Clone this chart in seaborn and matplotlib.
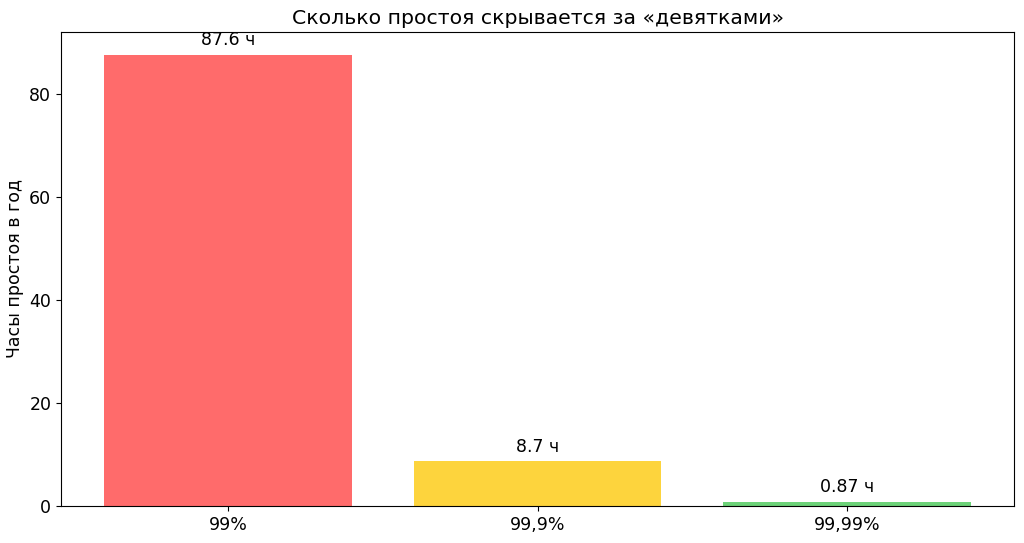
import matplotlib
matplotlib.use("Agg")
import matplotlib.pyplot as plt
import seaborn as sns
import pandas as pd

# данные
levels = ["99%", "99,9%", "99,99%"]
hours = [87.6, 8.7, 0.87]
labels = ["87.6 ч", "8.7 ч", "0.87 ч"]
colors = ["#ff6b6b", "#fdd43d", "#6cd278"]

df = pd.DataFrame({"level": levels, "hours": hours})

fig = plt.figure(figsize=(10.24, 5.43), dpi=100)
ax = fig.add_axes([61 / 1024, 1 - 506 / 543, 953 / 1024, 474 / 543])

sns.barplot(data=df, x="level", y="hours", hue="level", palette=colors,
            saturation=1, legend=False, width=0.8, ax=ax)

for i, (v, t) in enumerate(zip(hours, labels)):
    ax.text(i, v + 1.0, t, ha="center", va="bottom", fontsize=12.5)

ax.set_xlim(-0.54, 2.54)
ax.set_ylim(0, max(hours) * 1.05)
ax.set_title("Сколько простоя скрывается за «девятками»", fontsize=14.7)
ax.set_ylabel("Часы простоя в год", fontsize=12.5)
ax.set_xlabel("")
ax.tick_params(labelsize=12.5)

fig.savefig("out.png", dpi=100)
